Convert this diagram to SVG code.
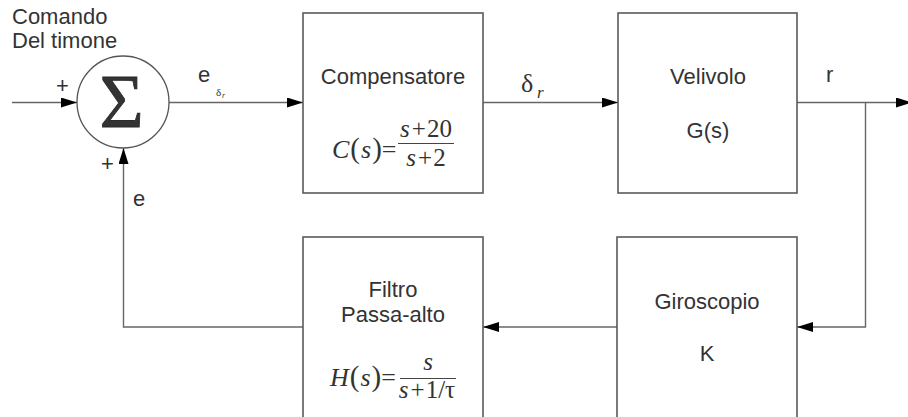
<svg xmlns="http://www.w3.org/2000/svg" width="908" height="417" viewBox="0 0 908 417">
  <defs>
    <marker id="arrow" viewBox="0 0 16 10" refX="16" refY="5" markerWidth="16" markerHeight="10" markerUnits="userSpaceOnUse" orient="auto">
      <path d="M0,0 L16,5 L0,10 Z" fill="#000"/>
    </marker>
    <style>
      .box { fill: #fff; stroke: #5a5a5a; stroke-width: 1.6; }
      .wire { fill: none; stroke: #666; stroke-width: 1.4; }
      .lbl { font-family: "Liberation Sans", Arial, sans-serif; font-size: 22px; fill: #333; }
      .mid { text-anchor: middle; }
      .math { font-family: "Liberation Serif", "Times New Roman", serif; fill: #333; }
      .it { font-style: italic; }
      .par { font-size: 29px; }
    </style>
  </defs>

  <rect width="908" height="417" fill="#fff"/>

  <!-- connectors -->
  <g id="connectors">
    <line class="wire" x1="12" y1="102.5" x2="77" y2="102.5" marker-end="url(#arrow)"/>
    <line class="wire" x1="169" y1="102.5" x2="303" y2="102.5" marker-end="url(#arrow)"/>
    <line class="wire" x1="483" y1="102.5" x2="618" y2="102.5" marker-end="url(#arrow)"/>
    <line class="wire" x1="797" y1="102.5" x2="912" y2="102.5" marker-end="url(#arrow)"/>
    <polyline class="wire" points="865.5,102.5 865.5,327 797,327" marker-end="url(#arrow)"/>
    <line class="wire" x1="617" y1="327" x2="483" y2="327" marker-end="url(#arrow)"/>
    <polyline class="wire" points="303,327 123.5,327 123.5,148" marker-end="url(#arrow)"/>
  </g>

  <!-- summing junction -->
  <g id="sum">
    <circle cx="123" cy="102" r="46" fill="#fff" stroke="#555" stroke-width="1.3"/>
    <text class="math mid" x="121.5" y="127" font-size="76" fill="#2a2a2a" stroke="#2a2a2a" stroke-width="0.8">Σ</text>
  </g>

  <!-- signal labels -->
  <g id="labels">
    <text class="lbl" x="12" y="24">Comando</text>
    <text class="lbl" x="12" y="48">Del timone</text>
    <text class="lbl" x="56" y="93">+</text>
    <text class="lbl" x="101" y="171">+</text>
    <text class="lbl" x="133" y="206">e</text>
    <text class="lbl" x="198" y="82">e</text>
    <text class="math" x="216" y="96" font-size="11">δ</text>
    <text class="math it" x="222" y="98" font-size="8">r</text>
    <text class="math" x="521" y="92" font-size="26">δ</text>
    <text class="math it" x="537" y="98" font-size="17">r</text>
    <text class="lbl" x="826" y="82">r</text>
  </g>

  <!-- compensator -->
  <g id="compensatore">
    <rect class="box" x="303" y="13" width="180" height="180"/>
    <text class="lbl mid" x="393" y="84">Compensatore</text>
    <text class="math" x="332" y="158" font-size="26"><tspan class="it">C</tspan><tspan class="par" dx="1">(</tspan><tspan class="it" dx="1">s</tspan><tspan class="par" dx="1">)</tspan><tspan>=</tspan></text>
    <line x1="398" y1="143.5" x2="454" y2="143.5" stroke="#444" stroke-width="1.2"/>
    <text class="math mid" x="426" y="137" font-size="25"><tspan class="it">s</tspan><tspan dx="2">+</tspan><tspan dx="1">20</tspan></text>
    <text class="math mid" x="426" y="166" font-size="25"><tspan class="it">s</tspan><tspan dx="2">+</tspan><tspan dx="1">2</tspan></text>
  </g>

  <!-- aircraft -->
  <g id="velivolo">
    <rect class="box" x="618" y="13" width="179" height="180"/>
    <text class="lbl mid" x="708" y="84">Velivolo</text>
    <text class="lbl mid" x="708" y="138">G(s)</text>
  </g>

  <!-- gyroscope -->
  <g id="giroscopio">
    <rect class="box" x="617" y="237" width="180" height="190"/>
    <text class="lbl mid" x="707" y="309">Giroscopio</text>
    <text class="lbl mid" x="707" y="361">K</text>
  </g>

  <!-- high-pass filter -->
  <g id="filtro">
    <rect class="box" x="303" y="237" width="180" height="190"/>
    <text class="lbl mid" x="393" y="297">Filtro</text>
    <text class="lbl mid" x="393" y="322">Passa-alto</text>
    <text class="math" x="330" y="386" font-size="26"><tspan class="it">H</tspan><tspan class="par" dx="1">(</tspan><tspan class="it" dx="1">s</tspan><tspan class="par" dx="1">)</tspan><tspan>=</tspan></text>
    <line x1="400" y1="378.5" x2="456" y2="378.5" stroke="#444" stroke-width="1.2"/>
    <text class="math mid it" x="428" y="370" font-size="25">s</text>
    <text class="math mid" x="427" y="398" font-size="25"><tspan class="it">s</tspan><tspan dx="2">+</tspan><tspan dx="1">1/τ</tspan></text>
  </g>
</svg>
